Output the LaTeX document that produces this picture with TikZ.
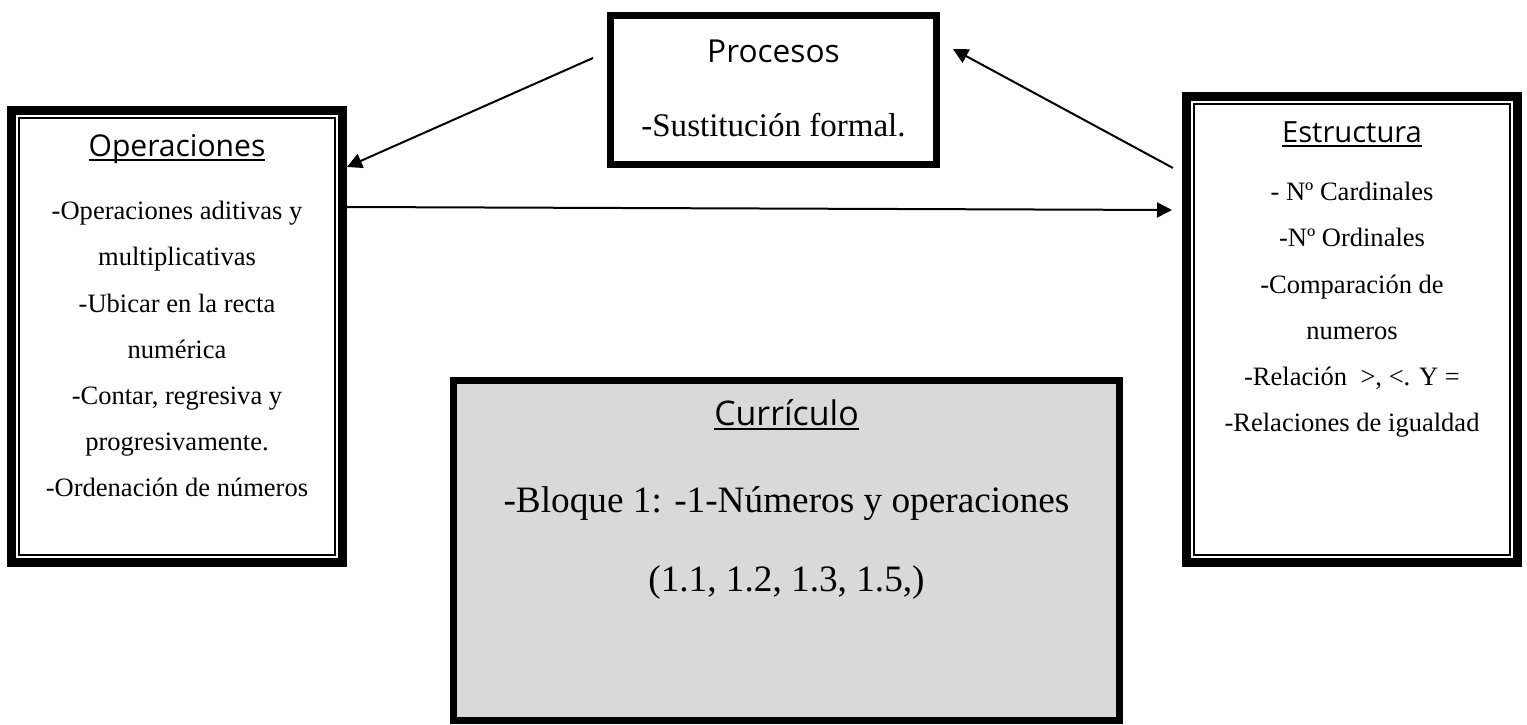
\documentclass[tikz,border=0pt]{standalone}
\usepackage{fontspec}
\setmainfont{Liberation Serif}
\newfontfamily\ttlfont{Open Sans}
\usetikzlibrary{arrows.meta}
\definecolor{curgray}{RGB}{217,217,217}
\newcommand\ulin[1]{\setbox0\hbox{#1}\rlap{\rule[-0.14em]{\wd0}{0.065em}}\box0}
\begin{document}
\begin{tikzpicture}
  \tikzstyle{dblbox}=[draw,line width=0.18cm,minimum width=6.62cm,inner sep=0pt]
  \tikzstyle{frame}=[draw,line width=0.14cm,inner sep=0pt]
  \tikzstyle{thinline}=[line width=0.04cm]
  \tikzstyle{ttl}=[anchor=base,inner sep=0pt]
  \tikzstyle{body}=[align=center,inner sep=0pt]
  \tikzstyle{arr}=[line width=0.04cm,-{Triangle[length=0.3cm,width=0.3cm]}]
  \useasboundingbox (0,0) rectangle (30.54,14.48);
  \node [dblbox,minimum height=9.04cm] (oper) at (3.54,7.75) {};
  \node [dblbox,minimum height=9.32cm] (estr) at (27.04,7.89) {};
  \node [frame,minimum width=6.52cm,minimum height=2.98cm] (proc) at (15.47,12.68) {};
  \node [frame,fill=curgray,minimum width=13.32cm,minimum height=6.8cm] (curr) at (15.73,3.47) {};
  \draw [thinline] ([shift={(0.24,-0.24)}]oper.north west) rectangle ([shift={(-0.24,0.24)}]oper.south east);
  \draw [thinline] ([shift={(0.24,-0.24)}]estr.north west) rectangle ([shift={(-0.24,0.24)}]estr.south east);
  \node [ttl,font=\ttlfont\fontsize{17.1}{20}\selectfont] (operT) at (3.54,11.34) {\ulin{Operaciones}};
  \node [body,font=\fontsize{15.1}{26.3}\selectfont] (operL) at (3.54,7.50) {\strut-Operaciones aditivas y\\multiplicativas\\-Ubicar en la recta\\numérica\\-Contar, regresiva y\\progresivamente.\\\strut-Ordenación de números};
  \node [ttl,font=\ttlfont\fontsize{16.6}{20}\selectfont] (estrT) at (27.04,11.62) {\ulin{Estructura}};
  \node [body,font=\fontsize{15.1}{26.3}\selectfont] (estrL) at (27.04,8.34) {\strut- Nº Cardinales\\-Nº Ordinales\\-Comparación de\\numeros\\-Relación~ >, <. Y =\\\strut-Relaciones de igualdad};
  \node [ttl,font=\ttlfont\fontsize{18}{22}\selectfont] (procT) at (15.47,13.22) {Procesos};
  \node [ttl,font=\fontsize{18.8}{22}\selectfont] (procL) at (15.47,11.74) {-Sustitución formal.};
  \node [ttl,font=\ttlfont\fontsize{19.3}{23}\selectfont] (currT) at (15.73,5.98) {\ulin{Currículo}};
  \node [body,font=\fontsize{21.2}{45.5}\selectfont] (currL) at (15.73,3.76) {\strut-Bloque 1: -1-Números y operaciones\\\strut(1.1, 1.2, 1.3, 1.5,)};
  \draw [arr] ([xshift=-0.28cm,yshift=0.64cm]proc.west) -- ([yshift=-1.22cm]oper.north east);
  \draw [arr] ([xshift=-0.18cm,yshift=-1.52cm]estr.north west) -- ([xshift=0.26cm,yshift=-0.74cm]proc.north east);
  \draw [arr] ([yshift=-2.02cm]oper.north east) -- ([xshift=-0.2cm,yshift=-2.36cm]estr.north west);
\end{tikzpicture}
\end{document}
